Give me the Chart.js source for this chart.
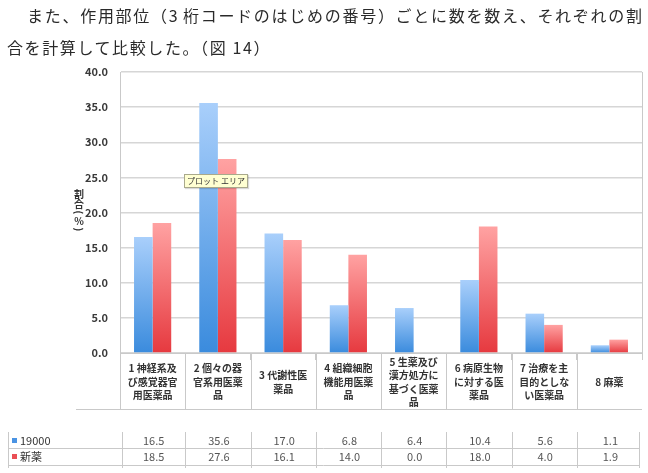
<!DOCTYPE html>
<html>
<head>
<meta charset="utf-8">
<script src="https://cdn.jsdelivr.net/npm/chart.js@4"></script>
<style>
  html, body { margin: 0; padding: 0; background: #fff; }
  #page { position: relative; width: 648px; height: 473px; overflow: hidden; }
  #chartBox { position: absolute; left: 0; top: 0; width: 648px; height: 473px; }
  .para { position: absolute; font-family: "Noto Sans CJK JP", sans-serif; font-size: 16px; color: #2a2a2a; line-height: 20px; white-space: nowrap; }
  #line1 { left: 27px; top: 5px; width: 615px; text-align: justify; text-align-last: justify; }
  #line2 { left: 7px; top: 37px; letter-spacing: 1.6px; }
  #tip { position: absolute; left: 184px; top: 174px; width: 62px; height: 12px; background: #ffffd2; border: 1px solid #a9a98c; font-family: "Noto Sans CJK JP", sans-serif; font-size: 8px; line-height: 12px; text-align: center; color: #333; box-shadow: 1px 1px 1px rgba(0,0,0,0.15); }
</style>
</head>
<body>
<div id="page">
  <div id="chartBox"><canvas id="chart"></canvas></div>
  <div class="para" id="line1">また、作用部位（3 桁コードのはじめの番号）ごとに数を数え、それぞれの割</div>
  <div class="para" id="line2">合を計算して比較した。（図 14）</div>
  <div id="tip">プロット エリア</div>
</div>
<script>
let categories = [
    ["1 神経系及", "び感覚器官", "用医薬品"],
    ["2 個々の器", "官系用医薬", "品"],
    ["3 代謝性医", "薬品"],
    ["4 組織細胞", "機能用医薬", "品"],
    ["5 生薬及び", "漢方処方に", "基づく医薬", "品"],
    ["6 病原生物", "に対する医", "薬品"],
    ["7 治療を主", "目的としな", "い医薬品"],
    ["8 麻薬"]
]
let seriesNames = ["19000", "新薬"]
let values19000 = [16.5, 35.6, 17.0, 6.8, 6.4, 10.4, 5.6, 1.1]
let valuesNew = [18.5, 27.6, 16.1, 14.0, 0.0, 18.0, 4.0, 1.9]
let yTicks = [0, 5, 10, 15, 20, 25, 30, 35, 40]
let yTitle = "割合(%)"

const FONT = "'Noto Sans CJK JP', sans-serif"
const LINE = "#c9c9c9"

function barGradient(light, dark) {
    return function(ctx) {
        let chart = ctx.chart
        if (!chart.chartArea || ctx.raw === undefined) return dark
        let yScale = chart.scales.y
        let top = yScale.getPixelForValue(ctx.raw)
        let bottom = yScale.getPixelForValue(0)
        if (bottom - top < 1) return dark
        let g = chart.ctx.createLinearGradient(0, top, 0, bottom)
        g.addColorStop(0, light)
        g.addColorStop(1, dark)
        return g
    }
}

// y title written top to bottom, brackets turned sideways
const yTitlePlugin = {
    id: "yTitleVertical",
    afterDraw(chart) {
        let c = chart.ctx
        c.save()
        c.fillStyle = "#333"
        c.font = "bold 10px " + FONT
        c.textAlign = "center"
        c.textBaseline = "middle"
        let cx = 79
        let y = 189
        for (let ch of yTitle) {
            if (ch === "(" || ch === ")") {
                let h = 7
                c.save()
                c.translate(cx, y + h / 2)
                c.rotate(Math.PI / 2)
                c.fillText(ch, 0, 0)
                c.restore()
                y += h
            } else {
                c.fillText(ch, cx, y + 5)
                y += 10
            }
        }
        c.restore()
    }
}

// draws the right border, the label row and the data table under the axis
const tablePlugin = {
    id: "dataTable",
    afterDraw(chart) {
        let c = chart.ctx
        let area = chart.chartArea
        let x = chart.scales.x
        let n = categories.length
        let half = (x.getPixelForValue(1) - x.getPixelForValue(0)) / 2
        let edges = []
        for (let i = 0; i <= n; i++) {
            edges.push(i < n ? x.getPixelForValue(i) - half : x.getPixelForValue(n - 1) + half)
        }

        c.save()
        c.strokeStyle = LINE
        c.lineWidth = 1

        // right border of plot
        c.beginPath()
        c.moveTo(Math.round(area.right) + 0.5, area.top)
        c.lineTo(Math.round(area.right) + 0.5, area.bottom)
        c.stroke()

        // category label row
        let rowTop = area.bottom
        let rowBottom = 409
        c.beginPath()
        for (let i = 0; i < n; i++) {
            let ex = Math.round(edges[i]) + 0.5
            c.moveTo(ex, rowTop)
            c.lineTo(ex, rowBottom)
        }
        c.moveTo(76, rowBottom + 0.5)
        c.lineTo(Math.round(area.right), rowBottom + 0.5)
        c.stroke()

        c.fillStyle = "#333"
        c.font = "bold 10px " + FONT
        c.textAlign = "center"
        c.textBaseline = "middle"
        let lh = 13.5
        for (let i = 0; i < n; i++) {
            let lines = categories[i]
            let cx = x.getPixelForValue(i)
            let start = 382 - (lines.length - 1) * lh / 2
            for (let k = 0; k < lines.length; k++) {
                c.fillText(lines[k], cx, start + k * lh)
            }
        }

        // value table
        let tLeft = 8
        let tRight = 639
        let tTop = 432
        let rowLines = [448, 465]
        let rowMid = [441, 457]
        c.beginPath()
        let vx = [tLeft, edges[0] + 2]
        for (let i = 1; i < n; i++) vx.push(edges[i])
        vx.push(tRight)
        for (let i = 0; i < vx.length; i++) {
            let ex = Math.round(vx[i]) + 0.5
            c.moveTo(ex, tTop)
            c.lineTo(ex, 468)
        }
        for (let r = 0; r < rowLines.length; r++) {
            c.moveTo(tLeft, rowLines[r] + 0.5)
            c.lineTo(tRight, rowLines[r] + 0.5)
        }
        c.stroke()

        let colors = ["#4a93e3", "#ea4f55"]
        let rows = [values19000, valuesNew]
        for (let r = 0; r < rows.length; r++) {
            c.fillStyle = colors[r]
            c.fillRect(12, rowMid[r] - 3, 5, 5)
            c.fillStyle = "#333"
            c.font = "11px " + FONT
            c.textAlign = "left"
            c.fillText(seriesNames[r], 20, rowMid[r])
            c.fillStyle = "#555"
            c.textAlign = "center"
            for (let i = 0; i < n; i++) {
                c.fillText(rows[r][i].toFixed(1), x.getPixelForValue(i) + 1, rowMid[r])
            }
        }
        c.restore()
    }
}

let ctx = document.getElementById("chart").getContext("2d")
let chart = new Chart(ctx, {
    type: "bar",
    data: {
        labels: categories.map(l => l.join("")),
        datasets: [
            {
                label: seriesNames[0],
                data: values19000,
                backgroundColor: barGradient("#a9cffb", "#3a8bdd"),
                borderWidth: 0
            },
            {
                label: seriesNames[1],
                data: valuesNew,
                backgroundColor: barGradient("#ffa2a2", "#e6393f"),
                borderWidth: 0
            }
        ]
    },
    options: {
        responsive: true,
        maintainAspectRatio: false,
        animation: false,
        datasets: { bar: { barPercentage: 1.0, categoryPercentage: 0.57 } },
        layout: { padding: { top: 72, right: 6, left: 0, bottom: 0 } },
        plugins: {
            legend: { display: false },
            tooltip: { enabled: false }
        },
        scales: {
            x: {
                offset: true,
                grid: { drawOnChartArea: false, color: LINE, tickColor: LINE, tickLength: 7 },
                border: { display: true, color: LINE },
                ticks: { display: false },
                afterFit: function(scale) { scale.height = 120 }
            },
            y: {
                min: 0,
                max: 40,
                afterBuildTicks: function(scale) { scale.ticks = yTicks.map(v => ({ value: v })) },
                grid: { color: "#d6d6d6", lineWidth: 1.5, tickLength: 0, drawTicks: false },
                border: { display: true, color: LINE },
                ticks: {
                    padding: 12,
                    color: "#3a3a3a",
                    font: { family: FONT, size: 11, weight: "bold" },
                    callback: function(v) { return Number(v).toFixed(1) }
                },
                afterFit: function(scale) { scale.width = 120 }
            }
        }
    },
    plugins: [tablePlugin, yTitlePlugin]
})
</script>
</body>
</html>
